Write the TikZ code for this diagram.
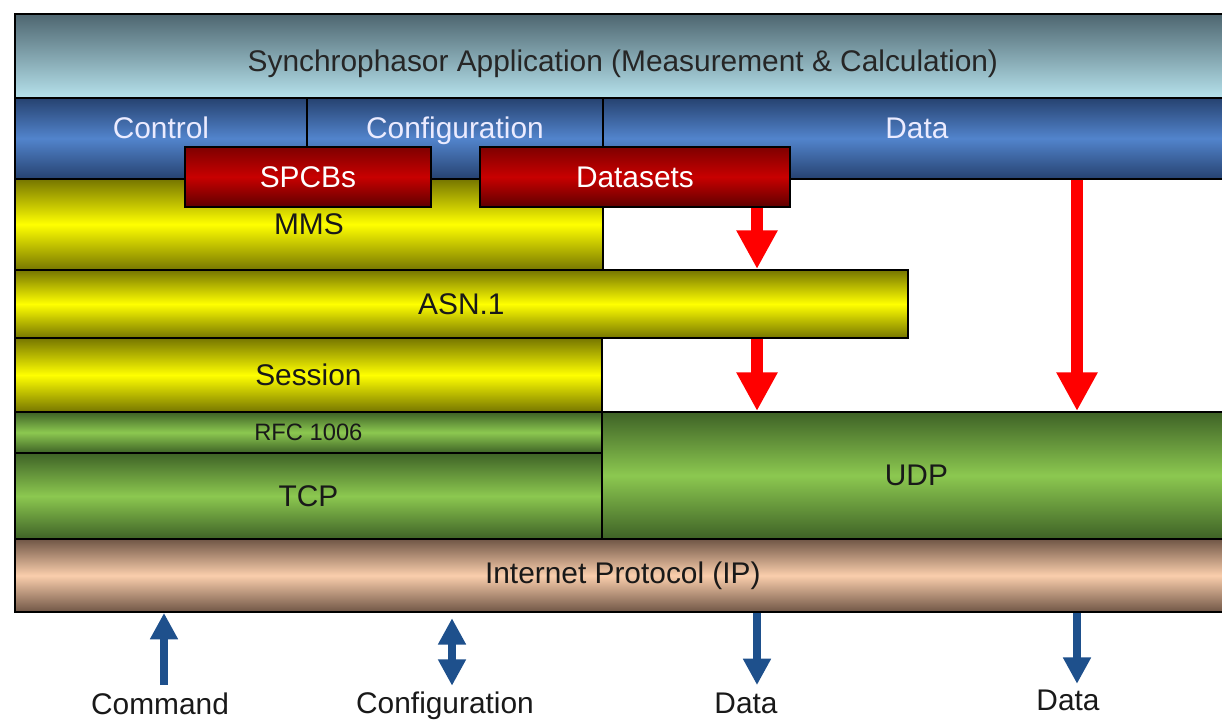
\documentclass[tikz,border=0pt]{standalone}
\usepackage{fontspec}
\setmainfont{Liberation Sans}
\usetikzlibrary{arrows.meta, positioning, calc}
\definecolor{appdark}{RGB}{78, 102, 112}
\definecolor{applite}{RGB}{182, 226, 236}
\definecolor{bluedark}{RGB}{38, 66, 112}
\definecolor{bluelite}{RGB}{82, 132, 204}
\definecolor{reddark}{RGB}{95, 0, 0}
\definecolor{redlite}{RGB}{200, 0, 0}
\definecolor{yelldark}{RGB}{118, 118, 0}
\definecolor{yelllite}{RGB}{255, 255, 0}
\definecolor{grndark}{RGB}{62, 98, 38}
\definecolor{grnlite}{RGB}{140, 200, 80}
\definecolor{ipdark}{RGB}{112, 86, 70}
\definecolor{iplite}{RGB}{250, 206, 172}
\definecolor{redarr}{RGB}{255, 0, 0}
\definecolor{bluearr}{RGB}{30, 80, 140}
\tikzset{
  layer/.style={rectangle, draw=black, line width=1.1pt, anchor=north west, inner sep=0pt,
                text=black!90, font=\fontsize{17}{20}\selectfont},
  applayer/.style={layer, top color=appdark, bottom color=applite},
  bluelayer/.style={layer, top color=bluedark, bottom color=bluedark, middle color=bluelite},
  redlayer/.style={layer, top color=reddark!70!redlite, bottom color=reddark, middle color=redlite, text=white},
  yelllayer/.style={layer, top color=yelldark, bottom color=yelldark, middle color=yelllite},
  grnlayer/.style={layer, top color=grndark, bottom color=grndark, middle color=grnlite},
  iplayer/.style={layer, top color=ipdark, bottom color=ipdark, middle color=iplite},
  bluetxt/.style={anchor=base, inner sep=0pt, text=white!92!blue, font=\fontsize{17}{20}\selectfont},
  apptxt/.style={anchor=base, inner sep=0pt, text=black!85, font=\fontsize{17}{20}\selectfont},
  botlabel/.style={anchor=base, inner sep=0pt, text=black!90, font=\fontsize{17}{20}\selectfont},
  redarrow/.style={-{Triangle[width=22pt, length=22pt]}, line width=6.8pt, color=redarr},
  bluearrow/.style={-{Triangle[width=15pt, length=15pt]}, line width=4.8pt, color=bluearr},
  bluedarrow/.style={{Triangle[width=15pt, length=15pt]}-{Triangle[width=15pt, length=15pt]},
                     line width=4.8pt, color=bluearr},
}
\begin{document}
\begin{tikzpicture}[x=0.02cm, y=-0.02cm]
  \useasboundingbox (0,0) rectangle (1222,720);
  % application and service row
  \node[applayer, minimum width=24.32cm, minimum height=1.68cm] (app) at (14,13) {};
  \node[apptxt] (app-t) at ([yshift=-0.32cm]app.center)
       {Synchrophasor Application (Measurement \& Calculation)};
  \node[bluelayer, minimum width=5.84cm, minimum height=1.62cm] (ctrl) at (14,97) {};
  \node[bluelayer, minimum width=5.92cm, minimum height=1.62cm] (conf) at (306,97) {};
  \node[bluelayer, minimum width=12.56cm, minimum height=1.62cm] (data) at (602,97) {};
  \node[bluetxt] (ctrl-t) at (ctrl.center) {Control};
  \node[bluetxt] (conf-t) at (conf.center) {Configuration};
  \node[bluetxt] (data-t) at (data.center) {Data};
  % protocol stack
  \node[yelllayer, minimum width=11.76cm, minimum height=1.82cm] (mms) at (14,178) {MMS};
  \node[yelllayer, minimum width=17.86cm, minimum height=1.36cm] (asn) at (14,269) {ASN.1};
  \node[yelllayer, minimum width=11.74cm, minimum height=1.48cm] (sess) at (14,337) {Session};
  \node[grnlayer, minimum width=11.74cm, minimum height=0.82cm,
        font=\fontsize{13.5}{16}\selectfont] (rfc) at (14,411) {RFC 1006};
  \node[grnlayer, minimum width=11.74cm, minimum height=1.72cm] (tcp) at (14,452) {TCP};
  \node[grnlayer, minimum width=12.58cm, minimum height=2.54cm] (udp) at (601,411) {UDP};
  \node[iplayer, minimum width=24.32cm, minimum height=1.46cm] (ip) at (14,538) {Internet Protocol (IP)};
  % mapping boxes
  \node[redlayer, minimum width=4.92cm, minimum height=1.2cm] (spcb) at (184,146) {SPCBs};
  \node[redlayer, minimum width=6.2cm, minimum height=1.2cm] (dsets) at (479,146) {Datasets};
  % data paths
  \coordinate (ds) at (757,0);
  \coordinate (dd) at (1077,0);
  \draw[redarrow] (dsets.south -| ds) -- (asn.north -| ds);
  \draw[redarrow] (asn.south -| ds) -- (udp.north -| ds);
  \draw[redarrow] (data.south -| dd) -- (udp.north -| dd);
  % wire traffic
  \node[botlabel] (cmd) at (160,714) {Command};
  \node[botlabel] (cfg) at (445,713) {Configuration};
  \node[botlabel] (dat1) at (746,713) {Data};
  \node[botlabel] (dat2) at (1068,710) {Data};
  \coordinate (b1) at (164,0);
  \coordinate (b2) at (452,0);
  \coordinate (b3) at (757,0);
  \coordinate (b4) at (1077,0);
  \draw[bluearrow, shorten <=4pt] (cmd.north -| b1) -- (ip.south -| b1);
  \draw[bluedarrow, shorten <=3pt, shorten >=3pt] (cfg.north -| b2) -- (ip.south -| b2);
  \draw[bluearrow, shorten >=4pt] (ip.south -| b3) -- (dat1.north -| b3);
  \draw[bluearrow, shorten >=3pt] (ip.south -| b4) -- (dat2.north -| b4);
\end{tikzpicture}
\end{document}
